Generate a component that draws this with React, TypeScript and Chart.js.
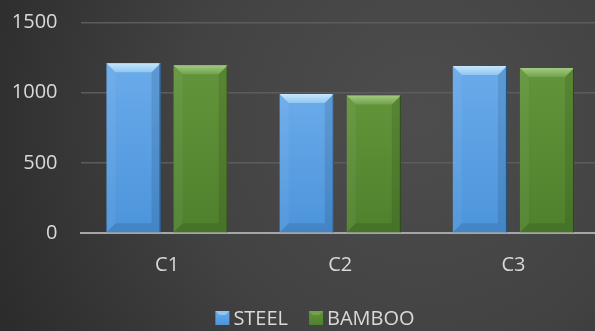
import React, { useEffect, useRef } from "react";
import { Chart, registerables } from "chart.js";

Chart.register(...registerables);

const categories = ["C1", "C2", "C3"];
const steelValues = [1210, 990, 1190];
const bambooValues = [1195, 980, 1175];
const seriesNames = ["STEEL", "BAMBOO"];
const yTicks = [0, 500, 1000, 1500];

const FONT = "'Open Sans', 'DejaVu Sans', sans-serif";
const TEXT = "#d9d9d9";

const palettes = [
  { body1: "#6aabea", body2: "#4c94db", top1: "#c6e6fc", top2: "#8fc6f2", edge: "#1f4e7a" },
  { body1: "#62953a", body2: "#4f802d", top1: "#a2ca80", top2: "#72a24c", edge: "#2a461a" },
];

const bgPlugin = {
  id: "bg",
  beforeDraw(chart: any) {
    const { ctx, width, height } = chart;
    const g = ctx.createRadialGradient(420, 120, 10, 420, 120, 520);
    g.addColorStop(0, "#4d4d4d");
    g.addColorStop(0.45, "#424242");
    g.addColorStop(1, "#262626");
    ctx.save();
    ctx.fillStyle = g;
    ctx.fillRect(0, 0, width, height);
    ctx.restore();
  },
};

const bevelPlugin = {
  id: "bevel",
  afterDatasetsDraw(chart: any) {
    const { ctx } = chart;
    chart.data.datasets.forEach((ds: any, di: number) => {
      const meta = chart.getDatasetMeta(di);
      const p = palettes[di];
      meta.data.forEach((bar: any) => {
        const w = bar.width;
        const l = bar.x - w / 2;
        const r = bar.x + w / 2;
        const t = bar.y;
        const b = bar.base;
        const bv = 9;
        ctx.save();
        const gb = ctx.createLinearGradient(0, t, 0, b);
        gb.addColorStop(0, p.body1);
        gb.addColorStop(1, p.body2);
        ctx.fillStyle = gb;
        ctx.fillRect(l, t, w, b - t);
        ctx.fillStyle = "rgba(255,255,255,0.05)";
        ctx.beginPath();
        ctx.moveTo(l, t);
        ctx.lineTo(l + bv, t + bv);
        ctx.lineTo(l + bv, b - bv);
        ctx.lineTo(l, b);
        ctx.closePath();
        ctx.fill();
        ctx.fillStyle = "rgba(0,0,0,0.10)";
        ctx.beginPath();
        ctx.moveTo(r, t);
        ctx.lineTo(r - bv, t + bv);
        ctx.lineTo(r - bv, b - bv);
        ctx.lineTo(r, b);
        ctx.closePath();
        ctx.fill();
        ctx.fillStyle = "rgba(0,0,0,0.10)";
        ctx.beginPath();
        ctx.moveTo(l, b);
        ctx.lineTo(l + bv, b - bv);
        ctx.lineTo(r - bv, b - bv);
        ctx.lineTo(r, b);
        ctx.closePath();
        ctx.fill();
        const gt = ctx.createLinearGradient(0, t, 0, t + bv);
        gt.addColorStop(0, p.top1);
        gt.addColorStop(1, p.top2);
        ctx.fillStyle = gt;
        ctx.beginPath();
        ctx.moveTo(l, t);
        ctx.lineTo(r, t);
        ctx.lineTo(r - bv, t + bv);
        ctx.lineTo(l + bv, t + bv);
        ctx.closePath();
        ctx.fill();
        ctx.strokeStyle = p.edge;
        ctx.lineWidth = 1;
        ctx.beginPath();
        ctx.moveTo(r - 0.5, t);
        ctx.lineTo(r - 0.5, b);
        ctx.stroke();
        ctx.restore();
      });
    });
  },
};

const legendPlugin = {
  id: "customLegend",
  afterDraw(chart: any) {
    const { ctx } = chart;
    ctx.save();
    ctx.font = `20px ${FONT}`;
    ctx.textBaseline = "middle";
    const box = 14;
    const gapText = 4;
    const gapItem = 21;
    const names = chart.data.datasets.map((d: any) => d.label);
    const widths = names.map((n: string) => box + gapText + ctx.measureText(n).width);
    const total = widths.reduce((a: number, c: number) => a + c, 0) + gapItem * (names.length - 1);
    let x = 315 - total / 2;
    const cy = 318;
    names.forEach((n: string, i: number) => {
      const p = palettes[i];
      const top = cy - box / 2;
      const g = ctx.createLinearGradient(0, top, 0, top + box);
      g.addColorStop(0, p.body1);
      g.addColorStop(1, p.body2);
      ctx.fillStyle = g;
      ctx.fillRect(x, top, box, box);
      const bv = 4;
      ctx.fillStyle = p.top2;
      ctx.beginPath();
      ctx.moveTo(x, top);
      ctx.lineTo(x + box, top);
      ctx.lineTo(x + box - bv, top + bv);
      ctx.lineTo(x + bv, top + bv);
      ctx.closePath();
      ctx.fill();
      ctx.fillStyle = TEXT;
      ctx.fillText(n, x + box + gapText, cy + 1);
      x += widths[i] + gapItem;
    });
    ctx.restore();
  },
};

export default function App() {
  const ref = useRef<HTMLCanvasElement>(null);
  useEffect(() => {
    document.body.style.margin = "0";
    document.body.style.overflow = "hidden";
    const chart = new Chart(ref.current!, {
      type: "bar",
      data: {
        labels: categories,
        datasets: [
          { label: seriesNames[0], data: steelValues, backgroundColor: "rgba(0,0,0,0)" },
          { label: seriesNames[1], data: bambooValues, backgroundColor: "rgba(0,0,0,0)" },
        ],
      },
      options: {
        responsive: false,
        animation: false,
        devicePixelRatio: 1,
        layout: { padding: { top: 22.5, left: 0, right: 0, bottom: 0 } },
        datasets: { bar: { categoryPercentage: 0.775, barPercentage: 0.806 } },
        plugins: { legend: { display: false }, tooltip: { enabled: false } },
        scales: {
          x: {
            grid: { display: false, drawTicks: false },
            border: { display: true, color: "#a6a6a6", width: 2 },
            ticks: { color: TEXT, font: { family: FONT, size: 20 }, padding: 20 },
            afterFit(scale: any) {
              scale.height = 98;
              scale.paddingRight = 0;
            },
          },
          y: {
            min: 0,
            max: 1500,
            afterBuildTicks(scale: any) {
              scale.ticks = yTicks.map((v) => ({ value: v }));
            },
            grid: { color: "#5c5c5c", lineWidth: 1.5, drawTicks: false },
            border: { display: false },
            ticks: {
              color: TEXT,
              font: { family: FONT, size: 20 },
              padding: 23,
              callback: (v: any) => String(v),
            },
            afterFit(scale: any) {
              scale.width = 80.5;
              scale.paddingTop = 0;
              scale.paddingBottom = 0;
            },
          },
        },
      },
      plugins: [bgPlugin, bevelPlugin, legendPlugin],
    });
    return () => chart.destroy();
  }, []);
  return (
    <div
      style={{ position: "fixed", left: 0, top: 0, width: 595, height: 331, overflow: "hidden" }}
    >
      <canvas ref={ref} width={600} height={331} style={{ display: "block" }} />
    </div>
  );
}
